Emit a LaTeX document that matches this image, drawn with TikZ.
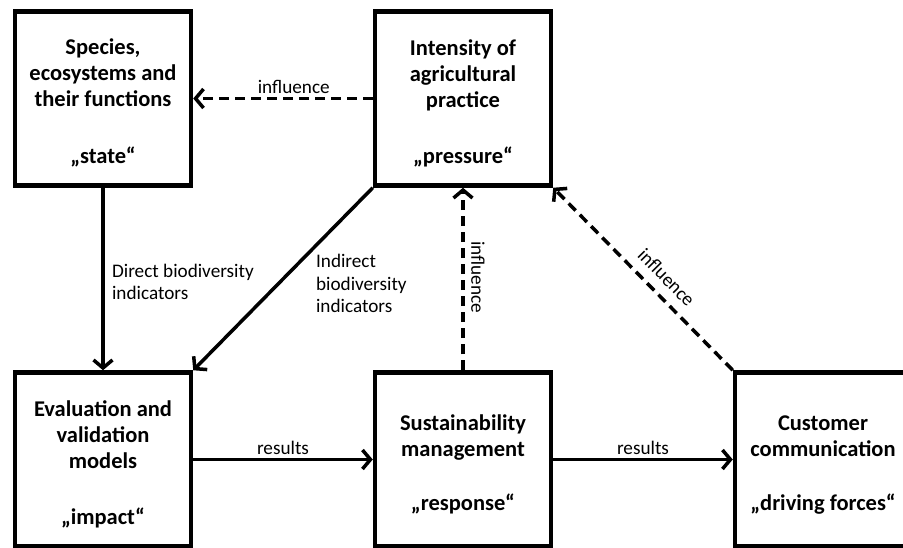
\documentclass[tikz,border=0pt]{standalone}
\usepackage{fontspec}
\setmainfont{Carlito}
\usepackage{tikz}
\usetikzlibrary{arrows.meta}

\newcommand{\boxtop}{\rule{0pt}{25pt}}

\begin{document}
\begin{tikzpicture}[
		x=1pt, y=-1pt,
		>={Straight Barb[length=8pt, width=19pt]},
		stage box/.style={
			rectangle, draw, line width=4.5pt,
			minimum width=176pt, minimum height=174pt,
			align=center, font=\bfseries\fontsize{22.5}{26}\selectfont,
		},
		link/.style={->, line width=3.5pt},
		influence link/.style={link, dash pattern=on 10pt off 6pt},
		link label/.style={font=\fontsize{19.2}{22.6}\selectfont},
	]
	\useasboundingbox (0, 0) rectangle (903, 548);
	\clip (0, 0) rectangle (903, 548);
	\node[stage box] (state) at (103, 98.5) {
		\boxtop Species,\\ecosystems and\\their functions\\[31pt]„state“
	};
	\node[stage box] (pressure) at (463, 98.5) {
		\boxtop Intensity of\\agricultural\\practice\\[30pt]„pressure“
	};
	% bottom row runs off the lower edge of the page
	\node[stage box] (impact) at (103, 459.5) {
		\boxtop Evaluation and\\validation\\models\\[30pt]„impact“
	};
	\node[stage box] (response) at (463, 459.5) {
		\boxtop Sustainability\\management\\[28pt]„response“
	};
	\node[stage box] (drivers) at (823, 459.5) {
		\boxtop Customer\\communication\\[28pt]„driving forces“
	};
	\draw[link] (state.south) -- node[
		link label, right, align=left, xshift=4pt, yshift=-3pt
	] (direct lbl) {Direct biodiversity\\indicators} (impact.north);
	\draw[link] (pressure.south west) -- node[
		link label, anchor=west, align=left, xshift=28pt, yshift=-4.5pt
	] (indirect lbl) {Indirect\\biodiversity\\indicators} (impact.north east);
	\draw[influence link] (pressure.west) -- node[
		link label, above, pos=0.44
	] (top lbl) {influence} (state.east);
	\draw[influence link] (response.north) -- node[
		link label, xshift=15pt, yshift=2pt, rotate=-90
	] (vert lbl) {influence} (pressure.south);
	\draw[influence link] (drivers.north west) -- node[
		link label, sloped, above=6pt, pos=0.44
	] (diag lbl) {influence} (pressure.south east);
	\draw[link] (impact.east) -- node[link label, above] (res one) {results} (response.west);
	\draw[link] (response.east) -- node[link label, above] (res two) {results} (drivers.west);
\end{tikzpicture}
\end{document}
